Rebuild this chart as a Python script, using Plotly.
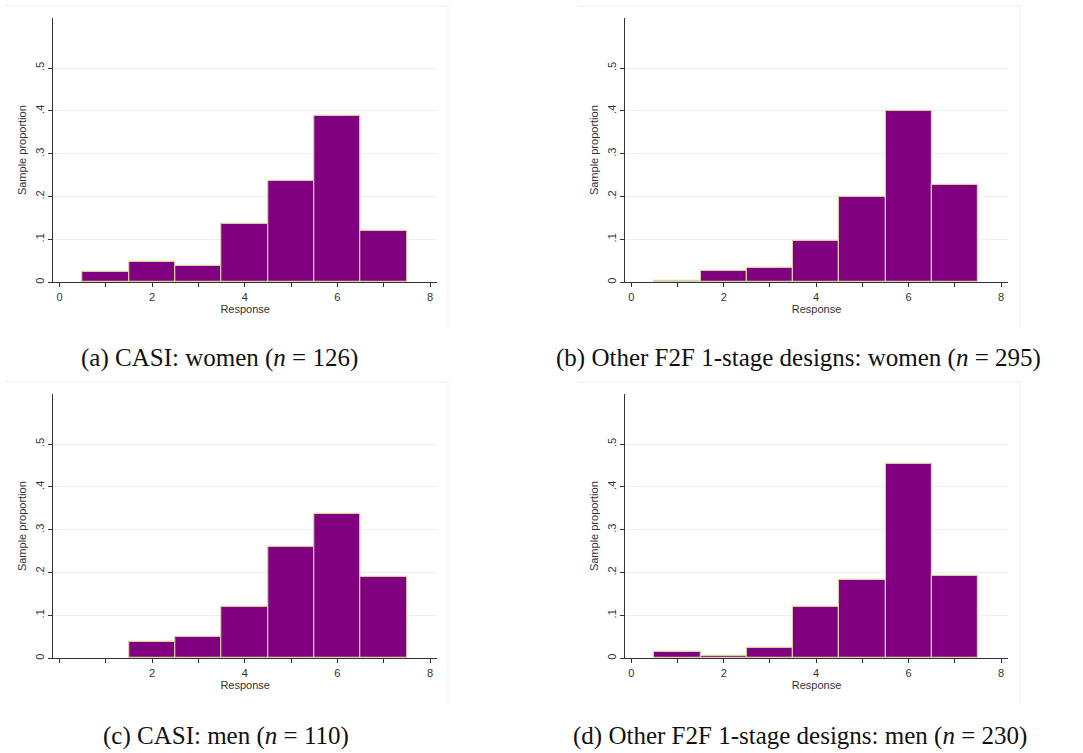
import plotly.graph_objects as go

W, H = 1083, 753

responses = [1, 2, 3, 4, 5, 6, 7]
casi_women = [0.024, 0.047, 0.039, 0.137, 0.236, 0.389, 0.119]
f2f_women = [0.004, 0.027, 0.034, 0.096, 0.198, 0.401, 0.226]
casi_men = [0.0, 0.038, 0.050, 0.119, 0.259, 0.338, 0.189]
f2f_men = [0.014, 0.005, 0.023, 0.119, 0.183, 0.453, 0.191]

captions = [
    "(a) CASI: women (<i>n</i> = 126)",
    "(b) Other F2F 1-stage designs: women (<i>n</i> = 295)",
    "(c) CASI: men (<i>n</i> = 110)",
    "(d) Other F2F 1-stage designs: men (<i>n</i> = 230)",
]
x_tickvals = [0, 1, 2, 3, 4, 5, 6, 7, 8]
x_ticktext_full = ["0", "", "2", "", "4", "", "6", "", "8"]
x_ticktext_c = ["", "", "2", "", "4", "", "6", "", "8"]
y_tickvals = [0, 0.1, 0.2, 0.3, 0.4, 0.5]
y_ticktext = ["0", ".1", ".2", ".3", ".4", ".5"]

series = [casi_women, f2f_women, casi_men, f2f_men]
xticktexts = [x_ticktext_full, x_ticktext_full, x_ticktext_c, x_ticktext_full]

# panel geometry in pixels: (left, right, top, bottom)
panels = [
    (53.3, 437, 18, 282.3),
    (625, 1008, 18, 282.3),
    (53.3, 437, 394, 658.3),
    (625, 1008, 394, 658.3),
]
caption_pos = [(219, 358), (798, 358), (226, 736), (800, 736)]
frames = [(6, 448, 6, 328), (578, 1020, 6, 328), (6, 448, 382, 704), (578, 1020, 382, 704)]

fig = go.Figure()
PURPLE = "#800080"
EDGE = "#d8cfa6"
GRID = "#e8f0f2"
AX = "#333333"
tickfont = dict(family="Liberation Sans, Arial", size=11, color="#333333")

for i, (vals, (l, r, t, b)) in enumerate(zip(series, panels)):
    n = i + 1
    xa = "x" if n == 1 else f"x{n}"
    ya = "y" if n == 1 else f"y{n}"
    fig.add_trace(go.Bar(
        x=responses, y=[v if v > 0 else None for v in vals], width=1.0,
        xaxis=xa, yaxis=ya,
        marker=dict(color=PURPLE, line=dict(color=EDGE, width=1.2)),
        showlegend=False, hoverinfo="x+y",
    ))
    xkey = "xaxis" if n == 1 else f"xaxis{n}"
    ykey = "yaxis" if n == 1 else f"yaxis{n}"
    fig.update_layout(**{
        xkey: dict(
            domain=[l / W, r / W], anchor=ya, range=[-0.135, 8.15],
            tickvals=x_tickvals, ticktext=xticktexts[i], ticks="outside",
            ticklen=4, tickwidth=1, tickcolor=AX, showline=True, linecolor=AX,
            linewidth=1.2, showgrid=False, zeroline=False, tickfont=tickfont,
            title=dict(text="Response", font=tickfont, standoff=2),
            fixedrange=True,
        ),
        ykey: dict(
            domain=[1 - b / H, 1 - t / H], anchor=xa, range=[0, 0.617],
            tickvals=y_tickvals, ticktext=y_ticktext, ticks="outside",
            ticklen=4, tickwidth=1, tickcolor=AX, showline=True, linecolor=AX,
            linewidth=1.2, showgrid=True, gridcolor=GRID, gridwidth=1,
            zeroline=False, tickfont=tickfont, tickangle=-90,
            title=dict(text="Sample proportion", font=tickfont, standoff=4),
            fixedrange=True,
        ),
    })

annotations = []
for text, (cx, cy) in zip(captions, caption_pos):
    annotations.append(dict(
        text=text, x=cx / W, y=1 - cy / H, xref="paper", yref="paper",
        xanchor="center", yanchor="middle", showarrow=False,
        font=dict(family="Liberation Serif, serif", size=25, color="#111111"),
    ))

shapes = []
for (l, r, t, b) in frames:
    shapes.append(dict(type="line", xref="paper", yref="paper",
                       x0=l / W, x1=r / W, y0=1 - t / H, y1=1 - t / H,
                       line=dict(color="#e6eef1", width=1)))
    shapes.append(dict(type="line", xref="paper", yref="paper",
                       x0=r / W, x1=r / W, y0=1 - t / H, y1=1 - b / H,
                       line=dict(color="#e6eef1", width=1)))

fig.update_layout(
    width=W, height=H, margin=dict(l=0, r=0, t=0, b=0),
    paper_bgcolor="white", plot_bgcolor="white",
    annotations=annotations, shapes=shapes, bargap=0,
)

fig.write_html(
    "out.html",
    config={"displayModeBar": False},
    post_script="document.body.style.margin='0px';document.body.style.overflow='hidden';",
)
